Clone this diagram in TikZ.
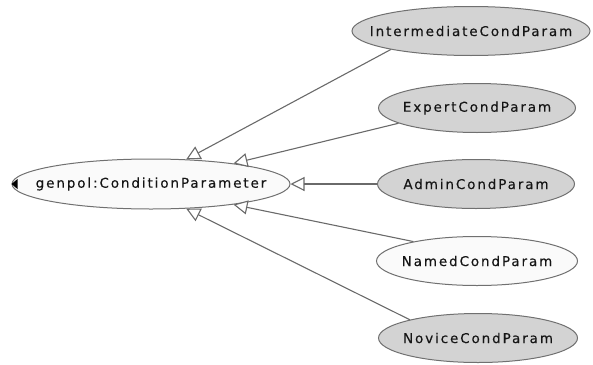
\documentclass[tikz,border=0pt]{standalone}
\usepackage{fontspec}
\newfontfamily\lblfont[LetterSpace=14,FakeBold=0.2]{DejaVu Sans}
\usetikzlibrary{shapes.geometric,arrows.meta}
\definecolor{nodegray}{HTML}{D3D3D3}
\definecolor{nodewhite}{HTML}{FAFAFA}
\definecolor{bordergray}{HTML}{707070}
\definecolor{edgegray}{HTML}{6A6A6A}
\definecolor{txt}{HTML}{151515}
\tikzset{
  cls/.style={ellipse, draw=bordergray, line width=1pt, inner sep=0pt,
    minimum width=200pt, minimum height=49pt, fill=nodegray,
    font=\lblfont\fontsize{13.5}{15}\selectfont, text=txt},
  whitecls/.style={cls, fill=nodewhite},
  gen/.style={draw=edgegray, line width=1.1pt,
    -{Triangle[open, length=14pt, width=14pt, fill=white]}}
}
\newcommand{\lbl}[1]{\makebox[0pt]{#1}}
\begin{document}
\begin{tikzpicture}[x=1pt,y=-1pt]
\useasboundingbox (0,0) rectangle (593,364);
\node[whitecls, minimum width=278pt, minimum height=50pt] (main) at (151,184) {\lbl{genpol:ConditionParameter}};
\node[cls, minimum width=238pt] (inter) at (471,31) {\lbl{IntermediateCondParam}};
\node[cls, minimum width=197pt] (expert) at (477,108) {\lbl{ExpertCondParam}};
\node[cls, minimum width=197pt] (admin) at (476,184) {\lbl{AdminCondParam}};
\node[whitecls, minimum width=201pt] (named) at (477,261) {\lbl{NamedCondParam}};
\node[cls, minimum width=199pt] (novice) at (478,338) {\lbl{NoviceCondParam}};
\fill[black] (main.west) -- ++(6,-5) -- ++(0,10) -- cycle;
\draw[gen] (inter.193.7) -- (main.35.2);
\draw[gen] (expert.191.2) -- (main.14);
\draw[gen] (admin.west) -- (main.east);
\draw[gen] (named.163.8) -- (main.-14);
\draw[gen] (novice.165.6) -- (main.-35);
\end{tikzpicture}
\end{document}
